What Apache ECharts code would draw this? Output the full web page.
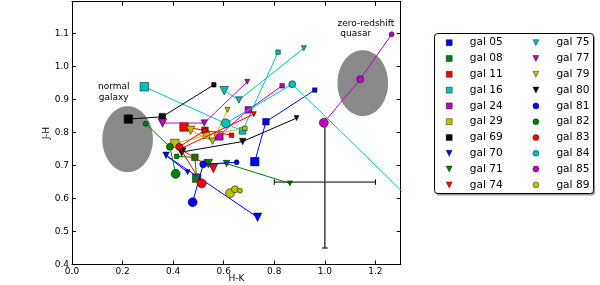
<!DOCTYPE html>
<html><head><meta charset="utf-8">
<script src="https://cdn.jsdelivr.net/npm/echarts@6/dist/echarts.min.js"></script>
<style>html,body{margin:0;padding:0;background:#fff}#c{width:600px;height:285px}</style>
</head><body><div id="c"></div>
<script>
// ---- data (H-K, J-H) : three points per galaxy ----
const gal05 = [[0.723,0.712],[0.767,0.833],[0.960,0.929]];
const gal08 = [[0.493,0.662],[0.486,0.725],[0.414,0.728]];
const gal11 = [[0.443,0.817],[0.526,0.807],[0.631,0.792]];
const gal16 = [[0.286,0.939],[0.674,0.805],[0.815,1.044]];
const gal24 = [[0.581,0.790],[0.697,0.869],[0.831,0.942]];
const gal29 = [[0.407,0.767],[0.532,0.792],[0.684,0.813]];
const gal69 = [[0.223,0.841],[0.357,0.848],[0.561,0.945]];
const gal70 = [[0.734,0.543],[0.372,0.731],[0.457,0.680]];
const gal71 = [[0.539,0.706],[0.611,0.706],[0.862,0.646]];
const gal74 = [[0.559,0.691],[0.427,0.750],[0.719,0.856]];
const gal75 = [[0.602,0.927],[0.660,0.899],[0.917,1.056]];
const gal77 = [[0.358,0.829],[0.523,0.829],[0.693,0.954]];
const gal79 = [[0.469,0.807],[0.556,0.774],[0.615,0.869]];
const gal80 = [[0.434,0.741],[0.675,0.773],[0.888,0.844]];
const gal81 = [[0.477,0.589],[0.519,0.704],[0.651,0.710]];
const gal82 = [[0.410,0.675],[0.387,0.757],[0.292,0.827]];
const gal83 = [[0.513,0.646],[0.424,0.757],[0.526,0.807]];
const gal84 = [[0.608,0.828],[0.871,0.947],[1.400,0.551]];
const gal85 = [[0.996,0.830],[1.140,0.962],[1.264,1.098]];
const gal89 = [[0.625,0.616],[0.644,0.628],[0.664,0.624]];

const names = ['gal 05','gal 08','gal 11','gal 16','gal 24','gal 29','gal 69',
               'gal 70','gal 71','gal 74','gal 75','gal 77','gal 79','gal 80',
               'gal 81','gal 82','gal 83','gal 84','gal 85','gal 89'];
const seriesData = [gal05,gal08,gal11,gal16,gal24,gal29,gal69,gal70,gal71,gal74,
                    gal75,gal77,gal79,gal80,gal81,gal82,gal83,gal84,gal85,gal89];
const colorCodes = ['b','g','r','c','m','y','k','b','g','r','c','m','y','k','b','g','r','c','m','y'];
const markerCodes = ['s','s','s','s','s','s','s','v','v','v','v','v','v','v','o','o','o','o','o','o'];

// regions (center x, center y, radius x, radius y)
const ellipses = [[0.22,0.78,0.10,0.10],[1.15,0.95,0.10,0.10]];
// error bar: x, y, xerr, yerr low, yerr high
const errorBar = [[1.0,0.65,0.2,0.2,0.185]];
// annotations: x, y, text
const notes = [[0.165,0.922,'normal\ngalaxy','center'],[1.050,1.115,'zero-redshift\n quasar','left']];

const xTicks = {min:0, max:1.3, interval:0.2};
const yTicks = {min:0.4, max:1.197, interval:0.1};

// ---- styling ----
const palette = {b:'#0000ff', g:'#008000', r:'#ff0000', c:'#00bfbf', m:'#bf00bf', y:'#bfbf00', k:'#000000'};
const triDown = 'path://M0,0L10,0L5,10Z';
const symbolOf = {s:'rect', v:triDown, o:'circle'};
const sizesOf = {s:[8.5,6.5,4.5], v:[8.5,6.5,5], o:[9,7,5]};
const FONT = 'DejaVu Sans';

const series = [];
series.push({
  type:'custom', name:'regions', z:1, silent:true,
  data: ellipses,
  renderItem:(params, api) => {
    const c = api.coord([api.value(0), api.value(1)]);
    const s = api.size([api.value(2), api.value(3)]);
    const pts = [];
    for (let i=0;i<96;i++){const a=i/96*Math.PI*2; pts.push([c[0]+s[0]*Math.cos(a), c[1]+s[1]*Math.sin(a)]);}
    return {type:'polygon', shape:{points:pts}, style:{fill:'#898989'}};
  }
});
series.push({
  type:'custom', name:'errors', z:1.5, silent:true,
  data: errorBar,
  renderItem:(params, api) => {
    const x=api.value(0), y=api.value(1), ex=api.value(2), el=api.value(3), eh=api.value(4);
    const l=api.coord([x-ex,y]), r=api.coord([x+ex,y]), b=api.coord([x,y-el]), t=api.coord([x,y+eh]);
    const cap=2.8, st={stroke:'#000', lineWidth:1};
    const stV={stroke:'#333', lineWidth:1.4};
    return {type:'group', children:[
      {type:'line', shape:{x1:l[0],y1:l[1],x2:r[0],y2:r[1]}, style:st},
      {type:'line', shape:{x1:l[0],y1:l[1]-cap,x2:l[0],y2:l[1]+cap}, style:st},
      {type:'line', shape:{x1:r[0],y1:r[1]-cap,x2:r[0],y2:r[1]+cap}, style:st},
      {type:'line', shape:{x1:b[0],y1:b[1],x2:t[0],y2:t[1]}, style:stV},
      {type:'line', shape:{x1:b[0]-cap,y1:b[1],x2:b[0]+cap,y2:b[1]}, style:stV}
    ]};
  }
});
names.forEach((n,i)=>{
  const col = palette[colorCodes[i]], mk = markerCodes[i];
  series.push({
    type:'line', name:n, data:seriesData[i], z:2+i*0.01,
    symbol: symbolOf[mk],
    symbolSize:(v,p)=>sizesOf[mk][p.dataIndex],
    showAllSymbol:true,
    lineStyle:{color:col, width:1},
    itemStyle:{color:col, borderColor:'#000', borderWidth:0.5},
    emphasis:{disabled:true}, silent:true, clip:true
  });
});
series.push({
  type:'custom', name:'notes', z:5, silent:true,
  data: notes.map(n=>[n[0],n[1]]),
  renderItem:(params, api) => {
    const c = api.coord([api.value(0), api.value(1)]);
    const n = notes[params.dataIndex];
    return {type:'text', x:c[0], y:c[1], style:{text:n[2], fill:'#000', font:'9px "DejaVu Sans"',
      align:n[3], verticalAlign:'middle', lineHeight:10.7}};
  }
});

const legendItems = idx => idx.map(i=>({name:names[i], icon: symbolOf[markerCodes[i]]}));
const legendBase = {orient:'vertical', top:36.7, itemWidth:6, itemHeight:6, itemGap:3.8,
  selectedMode:false, padding:0,
  itemStyle:{borderColor:'#000', borderWidth:0.4},
  textStyle:{fontSize:10.6, fontFamily:FONT, color:'#000', lineHeight:12, padding:[0,0,0,12.5]}};

const fmt = v => v.toFixed(1);
const axisLine = {show:true, onZero:false, lineStyle:{color:'#000', width:1}};
const tick = {inside:true, length:4, lineStyle:{color:'#000', width:1}};
const option = {
  animation:false,
  backgroundColor:'#fff',
  grid:{left:72, right:199.3, top:1.7, bottom:20.5, containLabel:false, outerBoundsMode:'none'},
  xAxis:[
    {type:'value', min:xTicks.min, max:xTicks.max, interval:xTicks.interval, position:'bottom',
     axisLine, axisTick:tick, splitLine:{show:false},
     axisLabel:{fontSize:9, fontFamily:FONT, color:'#000', margin:3, showMaxLabel:false, formatter:fmt},
     name:'H-K', nameLocation:'middle', nameGap:10, nameMoveOverlap:false,
     nameTextStyle:{fontSize:9, fontFamily:FONT, color:'#000'}},
    {type:'value', min:xTicks.min, max:xTicks.max, interval:xTicks.interval, position:'top',
     axisLine, axisTick:tick, splitLine:{show:false}, axisLabel:{show:false}}
  ],
  yAxis:[
    {type:'value', min:yTicks.min, max:yTicks.max, interval:yTicks.interval, position:'left',
     axisLine, axisTick:tick, splitLine:{show:false},
     axisLabel:{fontSize:9, fontFamily:FONT, color:'#000', margin:3, showMaxLabel:false, formatter:fmt},
     name:'J-H', nameLocation:'middle', nameGap:21, nameMoveOverlap:false,
     nameTextStyle:{fontSize:9, fontFamily:FONT, color:'#000'}},
    {type:'value', min:yTicks.min, max:yTicks.max, interval:yTicks.interval, position:'right',
     axisLine, axisTick:tick, splitLine:{show:false}, axisLabel:{show:false}}
  ],
  legend:[
    Object.assign({}, legendBase, {left:446, data:legendItems([0,1,2,3,4,5,6,7,8,9])}),
    Object.assign({}, legendBase, {left:532.7, data:legendItems([10,11,12,13,14,15,16,17,18,19])})
  ],
  graphic:[
    {type:'rect', left:436, top:35.5, shape:{width:159, height:160, r:3}, style:{fill:'#9a9a9a'}},
    {type:'rect', left:434, top:33, shape:{width:159, height:160, r:3}, style:{fill:'#fff', stroke:'#000', lineWidth:1}}
  ],
  series
};
const chart = echarts.init(document.getElementById('c'), null, {renderer:'canvas'});
chart.setOption(option);
</script></body></html>
